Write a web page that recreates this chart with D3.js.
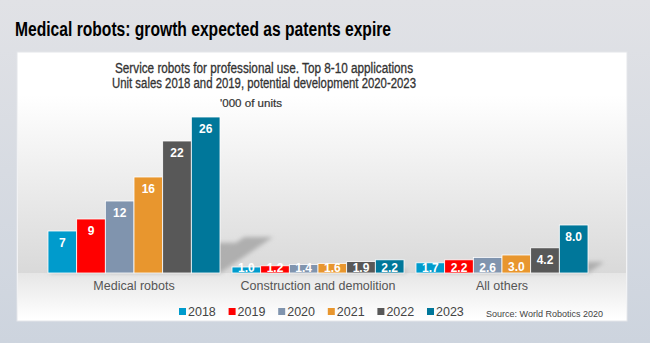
<!DOCTYPE html>
<html>
<head>
<meta charset="utf-8">
<title>Medical robots</title>
<script src="https://cdn.jsdelivr.net/npm/d3@7"></script>
<style>
  body { margin: 0; background: #d8dbe1; }
  svg { display: block; font-family: "Liberation Sans", Arial, sans-serif; }
</style>
</head>
<body>
<svg width="650" height="343" class="chart"></svg>
<script>
// data
var categories = ['Medical robots', 'Construction and demolition', 'All others']
var years = ['2018', '2019', '2020', '2021', '2022', '2023']
var medical = [7, 9, 12, 16, 22, 26]
var construction = [1.0, 1.2, 1.4, 1.6, 1.9, 2.2]
var others = [1.7, 2.2, 2.6, 3.0, 4.2, 8.0]
var labels = [
  ['7', '9', '12', '16', '22', '26'],
  ['1.0', '1.2', '1.4', '1.6', '1.9', '2.2'],
  ['1.7', '2.2', '2.6', '3.0', '4.2', '8.0']
]
var colors = ['#009bcc', '#ff0000', '#8094ae', '#e8962e', '#585858', '#00779a']

var series = [medical, construction, others]
var rows = []
categories.forEach(function(c, i) {
  years.forEach(function(y, j) {
    rows.push({cat: c, year: y, value: series[i][j], label: labels[i][j]})
  })
})

var svg = d3.select('.chart')
var defs = svg.append('defs')

var bg = defs.append('linearGradient').attr('id', 'bg').attr('x1', 0).attr('y1', 0).attr('x2', 0).attr('y2', 1)
bg.append('stop').attr('offset', '0%').attr('stop-color', '#e1e2e6')
bg.append('stop').attr('offset', '100%').attr('stop-color', '#cdd4de')

var plotGrad = defs.append('linearGradient').attr('id', 'plotbg').attr('x1', 0).attr('y1', 0).attr('x2', 0).attr('y2', 1)
plotGrad.append('stop').attr('offset', '0%').attr('stop-color', '#ffffff')
plotGrad.append('stop').attr('offset', '100%').attr('stop-color', '#d9d9d9')

var floorGrad = defs.append('linearGradient').attr('id', 'floorbg').attr('x1', 0).attr('y1', 0).attr('x2', 0).attr('y2', 1)
floorGrad.append('stop').attr('offset', '0%').attr('stop-color', '#e6e6e6')
floorGrad.append('stop').attr('offset', '100%').attr('stop-color', '#ffffff')

defs.append('filter').attr('id', 'blur').attr('x', '-20%').attr('y', '-20%').attr('width', '140%').attr('height', '140%')
  .append('feGaussianBlur').attr('stdDeviation', 2)

svg.append('rect').attr('width', 650).attr('height', 343).attr('fill', 'url(#bg)')

// title
svg.append('text')
  .attr('x', 15).attr('y', 36)
  .attr('font-size', 20).attr('font-weight', 'bold').attr('fill', '#000')
  .attr('textLength', 376).attr('lengthAdjust', 'spacingAndGlyphs')
  .text('Medical robots: growth expected as patents expire')

// panel
svg.append('rect').attr('x', 17).attr('y', 52).attr('width', 610).attr('height', 269)
  .attr('fill', '#fff').attr('stroke', '#e4e6ea')

var margin = {top: 95, bottom: 273, left: 42, right: 594}

svg.append('rect').attr('x', 18).attr('y', margin.top).attr('width', 608).attr('height', margin.bottom - margin.top)
  .attr('fill', 'url(#plotbg)')
svg.append('rect').attr('x', 18).attr('y', margin.bottom).attr('width', 608).attr('height', 46)
  .attr('fill', 'url(#floorbg)')

var sub = svg.append('g').attr('fill', '#333').attr('stroke', '#333').attr('stroke-width', 0.3).attr('text-anchor', 'middle')
sub.append('text').attr('x', 264).attr('y', 73)
  .attr('font-size', 14)
  .attr('textLength', 298).attr('lengthAdjust', 'spacingAndGlyphs')
  .text('Service robots for professional use. Top 8-10 applications')
sub.append('text').attr('x', 264).attr('y', 88)
  .attr('font-size', 14)
  .attr('textLength', 304).attr('lengthAdjust', 'spacingAndGlyphs')
  .text('Unit sales 2018 and 2019, potential development 2020-2023')
sub.append('text').attr('x', 251).attr('y', 107)
  .attr('font-size', 11).attr('stroke-width', 0.2)
  .attr('textLength', 62).attr('lengthAdjust', 'spacingAndGlyphs')
  .text("'000 of units")

// scales
var x0 = d3.scaleBand().domain(categories).range([margin.left, margin.right]).paddingInner(12 / 184).paddingOuter(6 / 184)
var x1 = d3.scaleBand().domain(years).range([0, x0.bandwidth()])
var y = d3.scaleLinear().domain([0, 26]).range([margin.bottom, margin.bottom - 156])

var color = d3.scaleOrdinal().domain(years).range(colors)

// shadows
svg.append('g').attr('filter', 'url(#blur)')
  .selectAll('polygon')
  .data(rows)
  .enter()
  .append('polygon')
  .attr('fill', '#aaaaaa')
  .attr('opacity', 0.9)
  .attr('points', function(d) {
    var xa = x0(d.cat) + x1(d.year)
    var xb = xa + x1.bandwidth()
    var h = margin.bottom - y(d.value)
    var dx = h * 0.34, dy = h * 0.23
    return [[xa, margin.bottom], [xb, margin.bottom], [xb + dx, margin.bottom - dy], [xa + dx, margin.bottom - dy]].join(' ')
  })

// bars
var g = svg.append('g')
g.selectAll('rect')
  .data(rows)
  .enter()
  .append('rect')
  .attr('x', function(d) { return x0(d.cat) + x1(d.year) })
  .attr('y', function(d) { return y(d.value) })
  .attr('width', x1.bandwidth())
  .attr('height', function(d) { return margin.bottom - y(d.value) })
  .attr('fill', function(d) { return color(d.year) })
  .attr('stroke', '#fff')
  .attr('stroke-width', 0.8)

g.selectAll('text')
  .data(rows)
  .enter()
  .append('text')
  .attr('x', function(d) { return x0(d.cat) + x1(d.year) + x1.bandwidth() / 2 })
  .attr('y', function(d) { return Math.min(y(d.value) + 12, margin.bottom - 5) })
  .attr('dy', '0.35em')
  .attr('text-anchor', 'middle')
  .attr('font-size', 12)
  .attr('font-weight', 'bold')
  .attr('fill', '#fff')
  .text(function(d) { return d.label })

// category axis
var xAxis = svg.append('g').attr('transform', 'translate(0,' + margin.bottom + ')')
  .call(d3.axisBottom(x0).tickSize(0).tickPadding(8))
xAxis.select('.domain').remove()
xAxis.selectAll('text')
  .attr('font-size', 12.5)
  .attr('font-family', '"Liberation Sans", Arial, sans-serif')
  .attr('fill', '#555')

// legend
var legend = svg.append('g')
  .selectAll('g')
  .data(years)
  .enter()
  .append('g')
  .attr('transform', function(d, i) { return 'translate(' + (179 + i * 49.6) + ',312)' })
legend.append('rect').attr('x', 0).attr('y', -4).attr('width', 7).attr('height', 7)
  .attr('fill', function(d) { return color(d) })
legend.append('text').attr('x', 9).attr('dy', '0.35em')
  .attr('font-size', 12.5).attr('fill', '#444')
  .text(function(d) { return d })

svg.append('text').attr('x', 603).attr('y', 317).attr('text-anchor', 'end')
  .attr('font-size', 9).attr('fill', '#444')
  .text('Source: World Robotics 2020')
</script>
</body>
</html>
